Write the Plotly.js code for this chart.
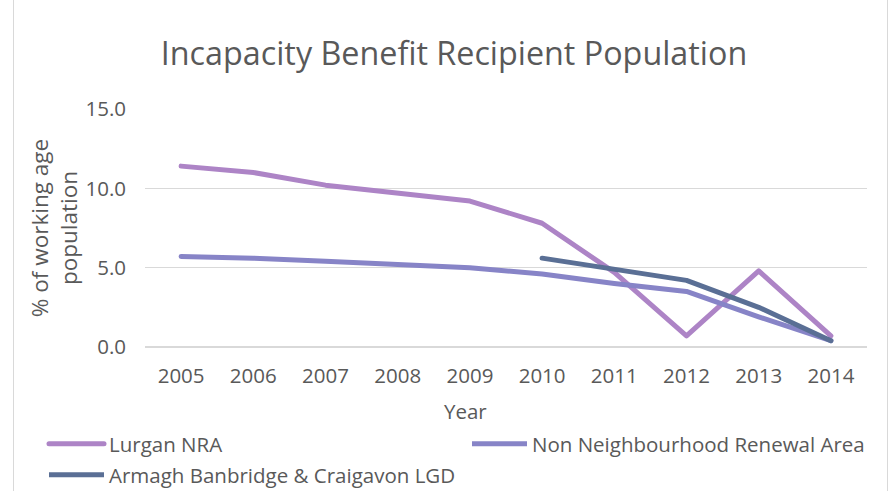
<!DOCTYPE html>
<html>
<head>
<meta charset="utf-8">
<script src="https://cdn.plot.ly/plotly-3.0.1.min.js"></script>
<style>
  html, body { margin: 0; padding: 0; background: #fff; }
  #wrap { position: relative; width: 888px; height: 491px; }
  #chart { position: absolute; left: 0; top: 0; width: 888px; height: 491px; }
  #frame { position: absolute; left: 13px; top: 0; width: 875px; height: 491px;
           border-left: 1px solid #d9d9d9; border-right: 1px solid #d9d9d9;
           box-sizing: border-box; pointer-events: none; }
  .scatterlayer path.js-line { stroke-linecap: round; stroke-linejoin: round; }
  .legend path.js-line { stroke-linecap: round; }
</style>
</head>
<body>
<div id="wrap"><div id="chart"></div><div id="frame"></div></div>
<script>
const years = ['2005','2006','2007','2008','2009','2010','2011','2012','2013','2014'];
const lurganNRA = [11.4, 11.0, 10.2, 9.7, 9.2, 7.8, 4.7, 0.7, 4.8, 0.7];
const nonNRA = [5.7, 5.6, 5.4, 5.2, 5.0, 4.6, 4.0, 3.5, 1.9, 0.4];
const armaghLGD = [null, null, null, null, null, 5.6, 4.9, 4.2, 2.5, 0.4];
const seriesNames = ['Lurgan NRA', 'Non Neighbourhood Renewal Area', 'Armagh Banbridge & Craigavon LGD'];
const yTicks = [0, 5, 10, 15];

const FONT = 'Open Sans, sans-serif';
const GREY = '#595959';

const traces = [
  { x: years, y: lurganNRA, name: seriesNames[0], type: 'scatter', mode: 'lines',
    line: { color: '#AD84C6', width: 5 }, legend: 'legend' },
  { x: years, y: nonNRA, name: seriesNames[1], type: 'scatter', mode: 'lines',
    line: { color: '#8784C7', width: 5 }, legend: 'legend2' },
  { x: years, y: armaghLGD, name: seriesNames[2], type: 'scatter', mode: 'lines',
    line: { color: '#5A6F95', width: 5 }, legend: 'legend3', connectgaps: false }
];

function legendAt(px, py) {
  return {
    orientation: 'h',
    xref: 'container', yref: 'container',
    x: px / 888, y: 1 - py / 491,
    xanchor: 'left', yanchor: 'top',
    bgcolor: 'rgba(0,0,0,0)',
    font: { family: FONT, size: 20.5, color: GREY },
    itemwidth: 55
  };
}

const layout = {
  width: 888, height: 491,
  margin: { l: 145, r: 21, t: 109, b: 144 },
  paper_bgcolor: 'rgba(0,0,0,0)',
  plot_bgcolor: 'rgba(0,0,0,0)',
  font: { family: FONT, color: GREY, size: 20 },
  title: {
    text: 'Incapacity Benefit Recipient Population',
    font: { family: FONT, size: 32.3, color: GREY },
    x: 454 / 888, xanchor: 'center',
    y: 1 - 54 / 491, yanchor: 'middle'
  },
  xaxis: {
    type: 'category',
    range: [-0.5, 9.5],
    showgrid: false,
    showline: false,
    zeroline: false,
    ticks: '',
    tickfont: { family: FONT, size: 20.5, color: GREY },
    ticklabelstandoff: 14,
    fixedrange: true
  },
  yaxis: {
    range: [0, 15],
    tickvals: yTicks,
    tickformat: '.1f',
    showgrid: true,
    gridcolor: '#d9d9d9',
    gridwidth: 1.5,
    zeroline: true,
    zerolinecolor: '#d9d9d9',
    zerolinewidth: 1.5,
    showline: false,
    ticks: '',
    ticklabelstandoff: 18,
    tickfont: { family: FONT, size: 20.5, color: GREY },
    title: {
      text: '% of working age<br>population',
      font: { family: FONT, size: 22.5, color: GREY },
      standoff: 1
    },
    automargin: false,
    fixedrange: true
  },
  annotations: [{
    text: 'Year', xref: 'paper', yref: 'paper',
    x: (465.5 - 145) / 722, y: (347 - 411) / 238,
    xanchor: 'center', yanchor: 'middle', showarrow: false,
    font: { family: FONT, size: 20.5, color: GREY }
  }],
  showlegend: true,
  legend: legendAt(44, 424),
  legend2: legendAt(467, 424),
  legend3: legendAt(44, 455)
};

Plotly.newPlot('chart', traces, layout, { displayModeBar: false, staticPlot: true });
</script>
</body>
</html>
